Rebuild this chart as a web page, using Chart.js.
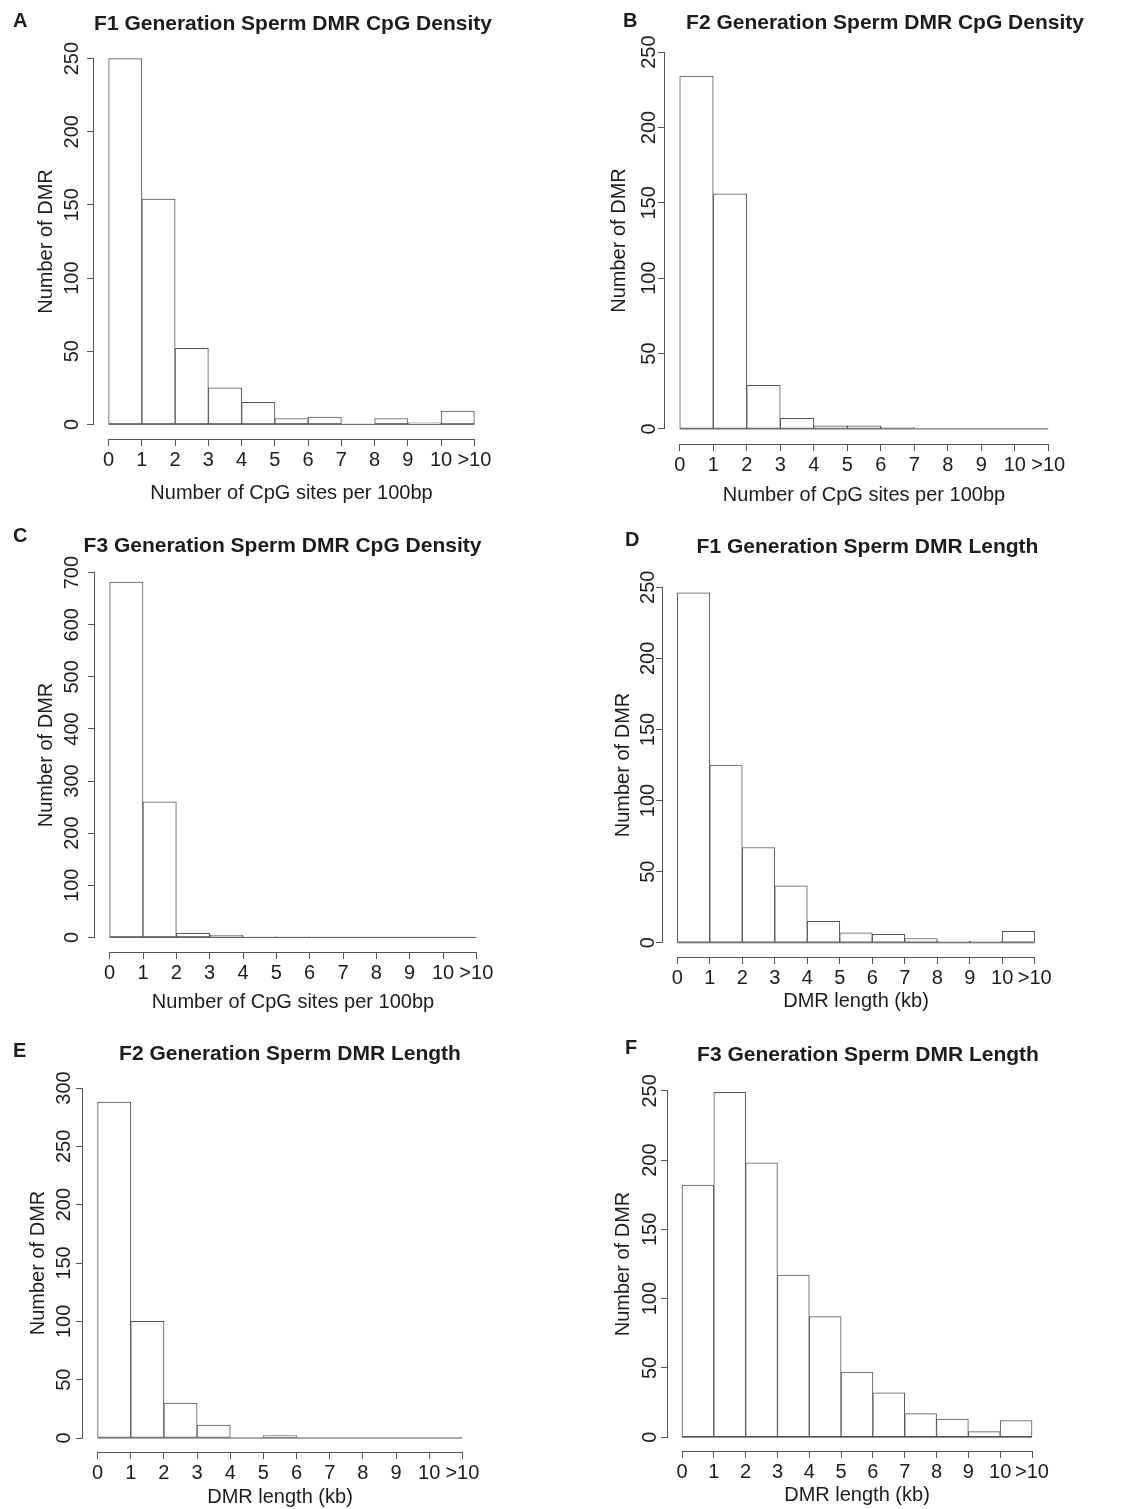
<!DOCTYPE html>
<html>
<head>
<meta charset="utf-8">
<title>Sperm DMR CpG density and length</title>
<script src="https://cdn.jsdelivr.net/npm/chart.js@4.4.0/dist/chart.umd.min.js"></script>
<style>
  html, body { margin: 0; padding: 0; background: #fff; overflow: hidden; width: 1146px; height: 1509px; }
  canvas { position: absolute; }
</style>
</head>
<body>
<script>
"use strict";

// histogram bins: 0-1, 1-2, ... 9-10, >10
const binStarts = [0, 1, 2, 3, 4, 5, 6, 7, 8, 9, 10];
const xTickValues = [0, 1, 2, 3, 4, 5, 6, 7, 8, 9, 10, 11];
const xTickLabels = ['0', '1', '2', '3', '4', '5', '6', '7', '8', '9', '10', '>10'];

// counts (Number of DMR) per bin
const cpgF1 = [250, 154, 52, 25, 15, 4, 5, 0, 4, 1, 9];
const cpgF2 = [234, 156, 29, 7, 2, 2, 1, 0, 0, 0, 0];
const cpgF3 = [682, 260, 8, 4, 1, 1, 0, 0, 0, 0, 0];
const lenF1 = [246, 125, 67, 40, 15, 7, 6, 3, 1, 1, 8];
const lenF2 = [288, 100, 30, 11, 0, 2, 0, 0, 0, 0, 0];
const lenF3 = [182, 249, 198, 117, 87, 47, 32, 17, 13, 4, 12];

const yTicks250 = [0, 50, 100, 150, 200, 250];
const yTicks300 = [0, 50, 100, 150, 200, 250, 300];
const yTicks700 = [0, 100, 200, 300, 400, 500, 600, 700];

const xTitleCpG = 'Number of CpG sites per 100bp';
const xTitleLen = 'DMR length (kb)';
const yTitle = 'Number of DMR';

const panels = [
    { letter: 'A', title: 'F1 Generation Sperm DMR CpG Density', counts: cpgF1, yTicks: yTicks250, xTitle: xTitleCpG },
    { letter: 'B', title: 'F2 Generation Sperm DMR CpG Density', counts: cpgF2, yTicks: yTicks250, xTitle: xTitleCpG },
    { letter: 'C', title: 'F3 Generation Sperm DMR CpG Density', counts: cpgF3, yTicks: yTicks700, xTitle: xTitleCpG },
    { letter: 'D', title: 'F1 Generation Sperm DMR Length', counts: lenF1, yTicks: yTicks250, xTitle: xTitleLen },
    { letter: 'E', title: 'F2 Generation Sperm DMR Length', counts: lenF2, yTicks: yTicks300, xTitle: xTitleLen },
    { letter: 'F', title: 'F3 Generation Sperm DMR Length', counts: lenF3, yTicks: yTicks250, xTitle: xTitleLen }
];

// where each panel sits on the page (px): plot region [left, top, right, bottom]
const layout = {
    A: { area: [94, 44, 489, 439],      titleAt: [293, 29.5],    letterAt: [13, 27],    yTickPad: -2.5, yTitleGap: 48, xTitleGap: 54 },
    B: { area: [665, 37, 1063, 444],    titleAt: [885, 28.5],    letterAt: [623, 26.5], yTickPad: -8,   yTitleGap: 46, xTitleGap: 51 },
    C: { area: [95, 558, 491, 952],     titleAt: [282.5, 552],   letterAt: [13, 542],   yTickPad: -1.5, yTitleGap: 49, xTitleGap: 50 },
    D: { area: [663, 573, 1049, 957],   titleAt: [867.5, 552.5], letterAt: [625, 546],  yTickPad: -9,   yTitleGap: 40, xTitleGap: 44 },
    E: { area: [83, 1074, 477, 1452],   titleAt: [290, 1060],    letterAt: [13, 1057],  yTickPad: -5,   yTitleGap: 45, xTitleGap: 45 },
    F: { area: [668, 1077, 1046, 1451], titleAt: [868, 1060.5],  letterAt: [625, 1054], yTickPad: -6,   yTitleGap: 45, xTitleGap: 44 }
};

const Y_AXIS_W = 95, X_AXIS_H = 75, PAD_TOP = 50, PAD_RIGHT = 25;
const FONT = "'Liberation Sans', Arial, Helvetica, sans-serif";
const LINE = '#555555';
const TEXT = '#1c1c1c';

Chart.defaults.font.family = FONT;
Chart.defaults.color = TEXT;

// R style: detached axes, baseline under empty bins, main title and panel letter
const rStyle = {
    id: 'rStyle',
    afterDatasetsDraw(chart, args, opts) {
        const { ctx, chartArea } = chart;
        const x = chart.scales.x, y = chart.scales.y;
        const x0 = x.getPixelForValue(xTickValues[0]);
        const x1 = x.getPixelForValue(xTickValues[xTickValues.length - 1]);
        ctx.save();
        ctx.strokeStyle = LINE;
        ctx.lineWidth = 1;
        ctx.beginPath();
        // baseline of the histogram
        ctx.moveTo(x0, y.getPixelForValue(0));
        ctx.lineTo(x1, y.getPixelForValue(0));
        // x axis
        ctx.moveTo(x0, chartArea.bottom + 0.5);
        ctx.lineTo(x1, chartArea.bottom + 0.5);
        // y axis
        ctx.moveTo(chartArea.left - 0.5, y.getPixelForValue(opts.yTicks[0]));
        ctx.lineTo(chartArea.left - 0.5, y.getPixelForValue(opts.yTicks[opts.yTicks.length - 1]));
        ctx.stroke();

        ctx.fillStyle = TEXT;
        ctx.textBaseline = 'alphabetic';
        ctx.font = 'bold 21px ' + FONT;
        ctx.textAlign = 'center';
        ctx.fillText(opts.title, opts.titleAt[0] - opts.origin[0], opts.titleAt[1] - opts.origin[1]);
        ctx.font = 'bold 20px ' + FONT;
        ctx.textAlign = 'left';
        ctx.fillText(opts.letter, opts.letterAt[0] - opts.origin[0], opts.letterAt[1] - opts.origin[1]);
        ctx.restore();
    }
};

panels.forEach(p => {
    const lay = layout[p.letter];
    const [l, t, r, b] = lay.area;
    const left = l - Y_AXIS_W, top = t - PAD_TOP;
    const canvas = document.createElement('canvas');
    canvas.width = (r - l) + Y_AXIS_W + PAD_RIGHT;
    canvas.height = (b - t) + PAD_TOP + X_AXIS_H;
    canvas.style.left = left + 'px';
    canvas.style.top = top + 'px';
    document.body.appendChild(canvas);

    const yMax = p.yTicks[p.yTicks.length - 1];
    const xLo = xTickValues[0], xHi = xTickValues[xTickValues.length - 1];
    const xExt = (xHi - xLo) * 0.04, yExt = yMax * 0.04;

    new Chart(canvas, {
        type: 'bar',
        data: {
            datasets: [{
                data: binStarts.map((s, i) => ({ x: s + 0.5, y: p.counts[i] })),
                backgroundColor: '#ffffff',
                borderColor: LINE,
                borderWidth: 1,
                borderSkipped: false,
                barPercentage: 1,
                categoryPercentage: 1
            }]
        },
        options: {
            responsive: false,
            animation: false,
            events: [],
            layout: { padding: { top: PAD_TOP, right: PAD_RIGHT, left: 0, bottom: 0 } },
            plugins: {
                legend: { display: false },
                title: { display: false },
                tooltip: { enabled: false },
                rStyle: {
                    yTicks: p.yTicks, title: p.title, letter: p.letter,
                    titleAt: lay.titleAt, letterAt: lay.letterAt, origin: [left, top]
                }
            },
            scales: {
                x: {
                    type: 'linear',
                    offset: false,
                    min: xLo - xExt,
                    max: xHi + xExt,
                    afterBuildTicks: scale => { scale.ticks = xTickValues.map(v => ({ value: v })); },
                    afterFit: scale => { scale.height = X_AXIS_H; },
                    border: { display: false },
                    grid: { offset: false, drawOnChartArea: false, drawTicks: true, tickLength: 7, tickColor: LINE, tickWidth: 1 },
                    ticks: {
                        autoSkip: false, maxRotation: 0, minRotation: 0, padding: 2,
                        font: { size: 20 }, color: TEXT,
                        callback: (value, index) => xTickLabels[index]
                    },
                    title: {
                        display: true, text: p.xTitle, color: TEXT,
                        font: { size: 20 },
                        padding: { top: 0, bottom: X_AXIS_H - 12 - lay.xTitleGap }
                    }
                },
                y: {
                    min: -yExt,
                    max: yMax + yExt,
                    afterBuildTicks: scale => { scale.ticks = p.yTicks.map(v => ({ value: v })); },
                    afterFit: scale => { scale.width = Y_AXIS_W; },
                    border: { display: false },
                    grid: { drawOnChartArea: false, drawTicks: true, tickLength: 7, tickColor: LINE, tickWidth: 1 },
                    ticks: {
                        autoSkip: false, minRotation: 90, maxRotation: 90, padding: lay.yTickPad,
                        crossAlign: 'center', font: { size: 20 }, color: TEXT
                    },
                    title: {
                        display: true, text: yTitle, color: TEXT,
                        font: { size: 20 },
                        padding: { top: Y_AXIS_W - 12 - lay.yTitleGap, bottom: 0 }
                    }
                }
            }
        },
        plugins: [rStyle]
    });
});
</script>
</body>
</html>
